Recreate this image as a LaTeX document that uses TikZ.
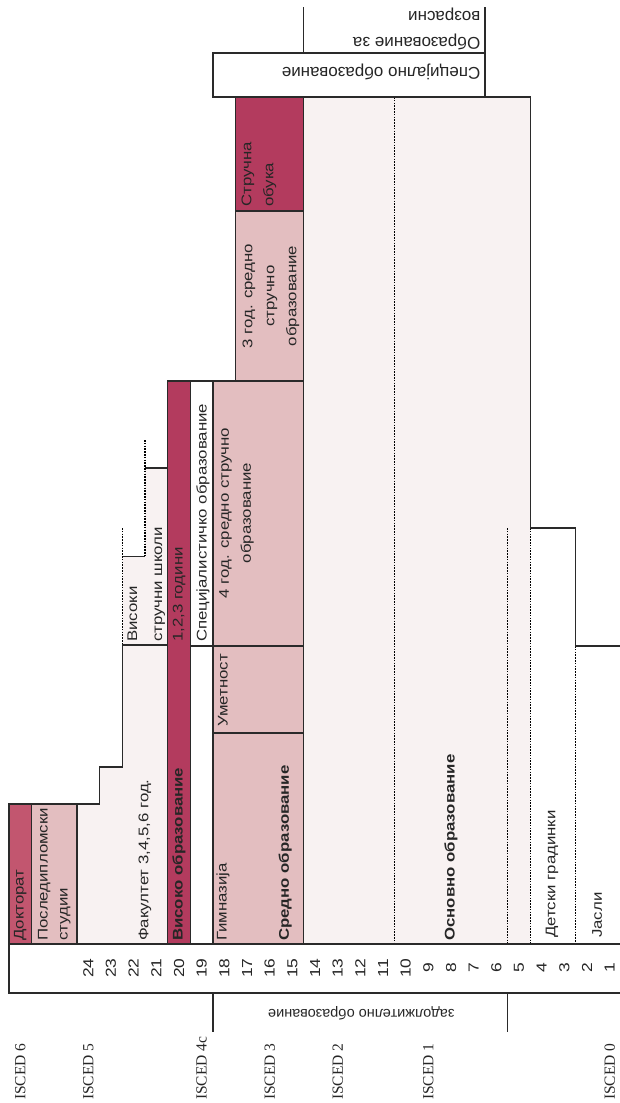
\documentclass[tikz,border=0pt]{standalone}
\usepackage{fontspec}
\setmainfont{Liberation Sans}
\newfontfamily\rotfont[FakeStretch=1.2]{Liberation Sans}
\newfontfamily\iscedfont{Liberation Serif}
\usetikzlibrary{positioning}

\definecolor{darkrose}{HTML}{B33B5E}
\definecolor{docrose}{HTML}{C2566F}
\definecolor{rosepink}{HTML}{E3BEC0}
\definecolor{palerose}{HTML}{F8F2F2}
\definecolor{linegray}{HTML}{2A2A2A}
\definecolor{txtgray}{HTML}{262626}

\tikzset{
  box/.style={draw=linegray, line width=1.3pt},
  dots/.style={draw=black, line width=1.5pt, dash pattern=on 1.5pt off 1.3pt},
  lbl/.style={rotate=90, anchor=west, inner sep=0pt, text=txtgray, align=left, font=\fontsize{14}{22}\rotfont},
  lblb/.style={lbl, font=\fontsize{14}{22}\rotfont\bfseries},
  num/.style={rotate=90, inner sep=0pt, text=txtgray, font=\fontsize{14.5}{16}\rotfont},
  upside/.style={rotate=180, anchor=west, inner sep=0pt, text=txtgray, align=left, font=\fontsize{17}{20}\selectfont},
  isced/.style={rotate=90, anchor=west, inner sep=0pt, text=txtgray, font=\fontsize{15.5}{18}\iscedfont}
}

\begin{document}
\begin{tikzpicture}[x=-22.67pt, y=-1pt]
  \useasboundingbox (28.397,0) rectangle (1.092,1103);

  % visoko obrazovanie
  \fill[palerose] (25,804) -- (24,804) -- (24,767) -- (23,767) -- (23,556.7) -- (22,556.7)
    -- (22,468) -- (21,468) -- (21,944) -- (25,944) -- cycle;
  \draw[box] (25,804) -- (24,804) -- (24,767) -- (23,767) -- (23,645) -- (21,645);
  \draw[box] (23,556.7) -- (22,556.7) (22,468) -- (21,468);
  \draw[dots] (23,528) -- (23,645) (22,440) -- (22,556.7);
  \draw[box, fill=docrose] (28,804) rectangle (27,944);
  \draw[box, fill=rosepink] (27,804) rectangle (25,944);
  \draw[box, fill=darkrose] (21,381) rectangle (20,944);
  \draw[box, fill=white] (20,381) rectangle (19,944);
  \draw[box] (20,646) -- (19,646);

  % sredno obrazovanie
  \draw[box, fill=rosepink] (19,381) rectangle (15,646);
  \draw[box, fill=rosepink] (19,646) rectangle (15,733);
  \draw[box, fill=rosepink] (19,733) rectangle (15,944);
  \draw[box, fill=rosepink] (18,211) rectangle (15,381);
  \draw[box, fill=darkrose] (18,97) rectangle (15,211);

  % osnovno obrazovanie
  \fill[palerose] (15,97) rectangle (5,944);
  \draw[dots] (11,97) -- (11,944) (6,528) -- (6,944) (5,528) -- (5,944) (3,646) -- (3,944);
  \draw[box] (15,97) -- (5,97) -- (5,528) -- (3,528) -- (3,646) -- (0.5,646);

  \draw[box, fill=white] (19,53) rectangle (7,97);
  \draw[box] (15,53) -- (15,7) (7,53) -- (7,7);

  % vozrast
  \draw[box, fill=white] (0.5,944) -- (28,944) -- (28,993) -- (0.5,993);
  \draw[box] (19,993) -- (19,1032) (6,993) -- (6,1032);
  \foreach \a in {1,...,24}
    \node[num] (age\a) at (\a+0.5,968) {\a};

  \node[lbl] (doktorat) at (27.5,941) {Докторат};
  \node[lbl] (postdiplomski) at (26,941) {Последипломски\\[-2pt]студии};
  \node[lbl] (fakultet) at (22,941) {Факултет 3,4,5,6 год.};
  \node[lbl] (visoki) at (21.95,642) {Високи\\[3pt]стручни школи};
  \node[lblb] (visoko) at (20.5,941) {Високо образование};
  \node[lbl] (godini) at (20.5,642) {1,2,3 години};
  \node[lbl] (specijalisticko) at (19.45,642) {Специјалистичко образование};
  \node[lbl, anchor=center, align=center] (cetirigod) at (17.96,513) {4 год. средно стручно\\образование};
  \node[lbl] (umetnost) at (18.56,727) {Уметност};
  \node[lbl] (gimnazija) at (18.56,941) {Гимназија};
  \node[lblb] (sredno) at (15.82,941) {Средно образование};
  \node[lbl, anchor=center, align=center] (trigod) at (16.45,296) {3 год. средно\\стручно\\образование};
  \node[lbl] (strucna) at (16.97,207) {Стручна\\обука};
  \node[lblb] (osnovno) at (8.5,941) {Основно образование};
  \node[lbl] (detski) at (4.05,938) {Детски градинки};
  \node[lbl] (jasli) at (2.06,938) {Јасли};

  \node[upside] (specijalno) at (7.2,72) {Специјално образование};
  \node[upside] (vozrasni) at (7.2,28.5) {Образование за\\[6pt]возрасни};
  \node[upside, anchor=center, font=\fontsize{14.5}{18}\selectfont] (zadolzitelno) at (12.46,1013) {задолжително образование};

  \foreach \k/\lv in {27.5/6, 24.5/5, 19.5/4c, 16.5/3, 13.5/2, 9.5/1, 1.5/0}
    \node[isced] (isced\lv) at (\k,1100) {ISCED \lv};
\end{tikzpicture}
\end{document}
